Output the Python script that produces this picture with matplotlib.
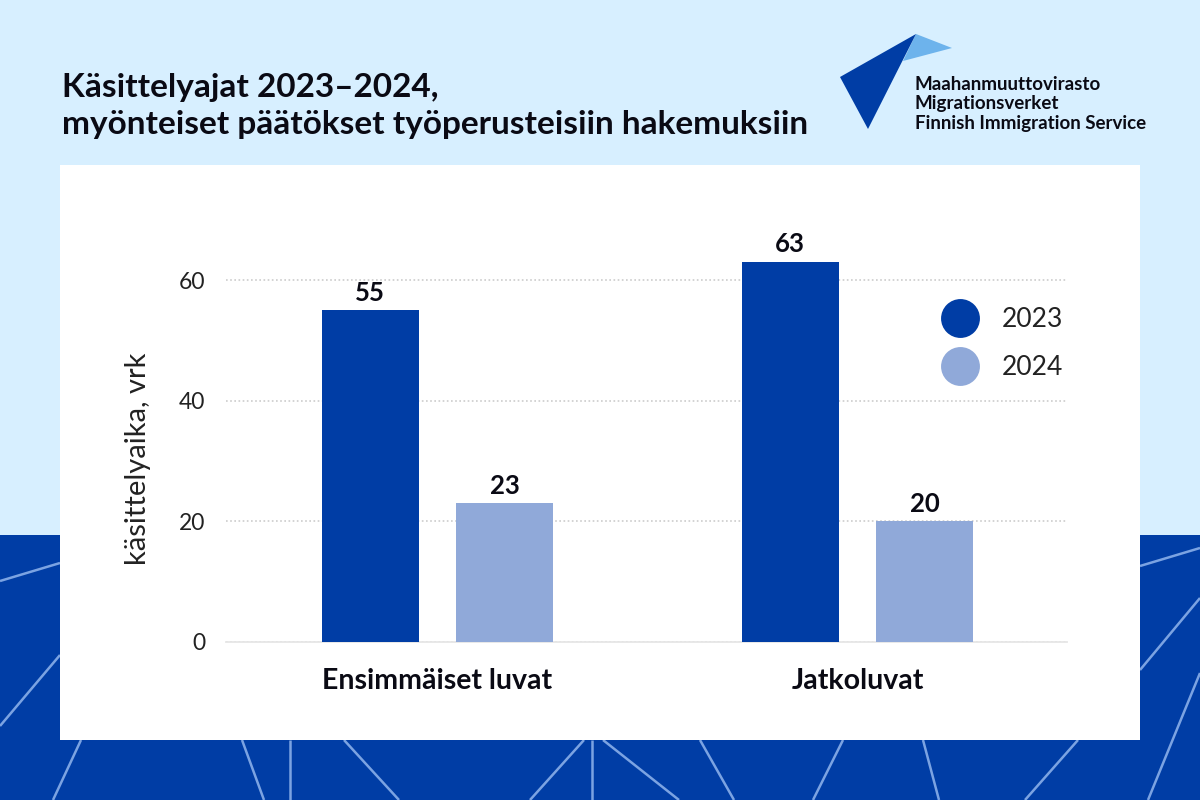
import matplotlib
matplotlib.use("Agg")
import matplotlib.pyplot as plt
from matplotlib.lines import Line2D
from matplotlib.patches import Polygon, Rectangle

categories = ["Ensimmäiset luvat", "Jatkoluvat"]
years = ["2023", "2024"]
values_2023 = [55, 63]
values_2024 = [23, 20]
y_ticks = [0, 20, 40, 60]

title = "Käsittelyajat 2023–2024,\nmyönteiset päätökset työperusteisiin hakemuksiin"
y_label = "käsittelyaika, vrk"
logo_lines = ["Maahanmuuttovirasto", "Migrationsverket", "Finnish Immigration Service"]

LIGHT_BG = "#D7EFFF"
DARK = "#003DA5"
LIGHT_BAR = "#90A9D9"
LINE_COL = "#7BA3E2"
INK = "#0a0a14"

plt.rcParams["font.family"] = ["Lato", "DejaVu Sans"]

fig = plt.figure(figsize=(12, 8), dpi=100, facecolor=LIGHT_BG)

# background drawn in pixel coordinates, y going down
bg = fig.add_axes([0, 0, 1, 1], zorder=0)
bg.set_xlim(0, 1200)
bg.set_ylim(800, 0)
bg.axis("off")

bg.add_patch(Rectangle((0, 535), 1200, 265, color=DARK, lw=0))

# decorative lines in the dark band
deco = [
    ((0, 581), (60, 563)), ((0, 726), (60, 655)), ((53, 800), (81, 740)),
    ((242, 740), (264, 800)), ((290, 740), (290, 800)), ((344, 740), (399, 800)),
    ((584, 740), (530, 800)), ((592, 740), (592, 800)), ((603, 740), (679, 800)),
    ((700, 740), (734, 800)), ((843, 740), (813, 800)), ((923, 740), (939, 800)),
    ((1078, 740), (1025, 800)), ((1200, 673), (1148, 800)),
    ((1140, 670), (1200, 598)), ((1140, 566), (1200, 548)),
]
for p0, p1 in deco:
    bg.plot([p0[0], p1[0]], [p0[1], p1[1]], color=LINE_COL, lw=1.8, solid_capstyle="butt")

bg.add_patch(Rectangle((60, 165), 1080, 575, color="white", lw=0, zorder=3))

# logo
bg.add_patch(Polygon([(916, 34), (952, 48), (903, 61)], color="#6DB3EC", lw=0))
bg.add_patch(Polygon([(840, 77), (916, 34), (868, 129)], color=DARK, lw=0))
for txt, y in zip(logo_lines, [90, 109, 129]):
    bg.text(915, y, txt, fontsize=13.5, fontweight="bold", color=INK, va="baseline", ha="left")

bg.text(62, 106, title, fontsize=24, fontweight="bold", color=INK,
        va="center", ha="left", linespacing=1.37)

# chart
ax = fig.add_axes([226 / 1200, 158 / 800, 841 / 1200, 422.3 / 800], zorder=2)
ax.patch.set_alpha(0)
ax.set_xlim(-0.5036, 1.4988)
ax.set_ylim(0, 70)

x = range(len(categories))
offset = 0.16
width = 0.231
bars_a = ax.bar([i - offset for i in x], values_2023, width, color=DARK, zorder=3)
bars_b = ax.bar([i + offset for i in x], values_2024, width, color=LIGHT_BAR, zorder=3)

for bars in (bars_a, bars_b):
    ax.bar_label(bars, padding=4, fontsize=18.5, fontweight="bold", color=INK)

ax.set_yticks(y_ticks)
ax.set_xticks(list(x))
ax.set_xticklabels(categories, fontsize=20.5, fontweight="bold", color=INK)
ax.tick_params(axis="x", length=0, pad=19)
ax.tick_params(axis="y", length=0, pad=15, labelsize=16.5, labelcolor="#222222")
ax.grid(axis="y", color="#cccccc", lw=1.2, ls=(0, (1, 1.5)), zorder=1)
ax.set_axisbelow(True)
for s in ("top", "right", "left"):
    ax.spines[s].set_visible(False)
ax.spines["bottom"].set_color("#e6e6e6")
ax.spines["bottom"].set_linewidth(1.3)
ax.set_ylabel(y_label, fontsize=21, color="#222222")
ax.yaxis.set_label_coords((151 - 226) / 841, (642 - 459) / 422.3)

handles = [
    Line2D([], [], marker="o", ls="", ms=28, color=DARK, mew=0),
    Line2D([], [], marker="o", ls="", ms=28, color=LIGHT_BAR, mew=0),
]
ax.legend(handles, years, frameon=False, fontsize=19, labelcolor="#222222",
          loc="center left", bbox_to_anchor=((934 - 226) / 841, (642 - 343.5) / 422.3),
          labelspacing=0.88, handletextpad=0.56, borderpad=0, borderaxespad=0)

fig.savefig("out.png", dpi=100, facecolor=fig.get_facecolor())
